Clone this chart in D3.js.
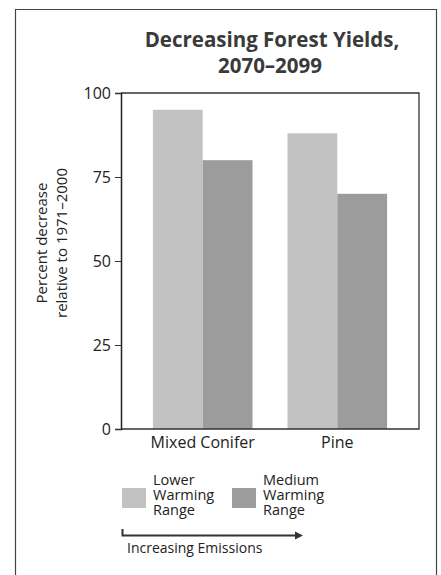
<!DOCTYPE html>
<html><head><meta charset="utf-8">
<script src="https://cdn.jsdelivr.net/npm/d3@7"></script>
<style>body{margin:0;background:#fff}svg{display:block}text{font-family:"Open Sans",sans-serif}</style>
</head><body>
<svg id="c" width="441" height="575"></svg>
<script>
const categories = ["Mixed Conifer", "Pine"];
const seriesNames = ["Lower Warming Range", "Medium Warming Range"];
const lowerValues = [95, 88];
const mediumValues = [80, 70];
const yTicks = [0, 25, 50, 75, 100];
const colors = ["#c2c2c2", "#9c9c9c"];

const svg = d3.select("#c");
// outer frame (top, left, right)
svg.append("path").attr("d", "M15.5,575 V9.5 H436.5 V575").attr("fill", "none").attr("stroke", "#444").attr("stroke-width", 1.2);

const m = {left: 121, right: 419, top: 93, bottom: 429};
const y = d3.scaleLinear().domain([0, 100]).range([m.bottom, m.top]);
const x0 = d3.scaleBand().domain(categories).range([m.left, m.right]).paddingInner(0.26).paddingOuter(0.237);
const x1 = d3.scaleBand().domain([0, 1]).range([0, x0.bandwidth()]);

// bars
const data = categories.map((c, i) => ({c, v: [lowerValues[i], mediumValues[i]]}));
const g = svg.append("g");
data.forEach(d => {
  d.v.forEach((v, j) => {
    g.append("rect").attr("x", x0(d.c) + x1(j)).attr("y", y(v))
      .attr("width", x1.bandwidth()).attr("height", y(0) - y(v)).attr("fill", colors[j]);
  });
});

// plot frame
svg.append("path").attr("d", `M${m.left},${m.top}H${m.right}V${m.bottom}H${m.left}`).attr("fill", "none").attr("stroke", "#333").attr("stroke-width", 1.3);

// y axis
const yAxis = svg.append("g").attr("transform", `translate(${m.left},0)`)
  .call(d3.axisLeft(y).tickValues(yTicks).tickSize(6).tickPadding(4));
yAxis.select(".domain").attr("stroke", "#222").attr("stroke-width", 1.5);
yAxis.selectAll(".tick line").attr("stroke", "#333");
yAxis.selectAll("text").attr("font-size", 16).attr("fill", "#222").attr("font-family", "Open Sans");

// x axis labels
const xAxis = svg.append("g").attr("transform", `translate(0,${m.bottom})`)
  .call(d3.axisBottom(x0).tickSize(0).tickPadding(8));
xAxis.select(".domain").remove();
xAxis.selectAll("text").attr("font-size", 16).attr("fill", "#222").attr("font-family", "Open Sans");

// y label
const yl = svg.append("text").attr("transform", `translate(47,243) rotate(-90)`).attr("text-anchor", "middle")
  .attr("font-size", 15).attr("fill", "#222");
yl.append("tspan").attr("x", 0).attr("y", 0).text("Percent decrease");
yl.append("tspan").attr("x", 0).attr("y", 20).text("relative to 1971–2000");

// title
const t = svg.append("text").attr("text-anchor", "middle").attr("font-weight", "bold").attr("font-size", 20.5).attr("fill", "#3a3a3a");
t.append("tspan").attr("x", 272).attr("y", 47).text("Decreasing Forest Yields,");
t.append("tspan").attr("x", 270).attr("y", 73).text("2070–2099");

// legend
const legX = [122, 232];
const legLines = [["Lower", "Warming", "Range"], ["Medium", "Warming", "Range"]];
seriesNames.forEach((s, j) => {
  svg.append("rect").attr("x", legX[j]).attr("y", 488).attr("width", 24).attr("height", 20).attr("fill", colors[j]);
  legLines[j].forEach((l, k) => svg.append("text").attr("font-size", 14.5).attr("fill", "#222")
    .attr("x", legX[j] + 31).attr("y", 485 + k * 15).text(l));
});
// arrow
svg.append("path").attr("d", "M122.5,529 V535.5 H296").attr("fill", "none").attr("stroke", "#333").attr("stroke-width", 2);
svg.append("path").attr("d", "M295,531.5 L303,535.5 L295,539.5 Z").attr("fill", "#333");
svg.append("text").attr("x", 127).attr("y", 553).attr("font-size", 14).attr("fill", "#222").text("Increasing Emissions");
</script>
</body></html>
